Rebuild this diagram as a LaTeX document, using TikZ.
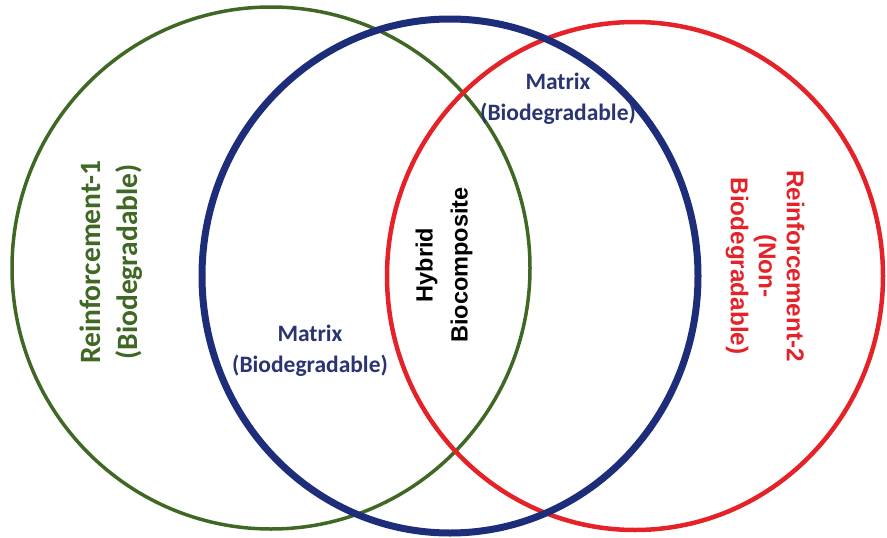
\documentclass[tikz,border=0pt]{standalone}
\usepackage{fontspec}
\newfontfamily\carlito{Carlito}
\newfontfamily\libsans{Liberation Sans}
\definecolor{rgreen}{RGB}{63,104,36}
\definecolor{rblue}{RGB}{30,45,122}
\definecolor{rred}{RGB}{228,34,40}
\definecolor{tblue}{RGB}{42,52,112}
\begin{document}
\begin{tikzpicture}[x=1pt,y=-1pt,
  ring/.style={line width=#1},
  greenlbl/.style={text=rgreen,align=center,rotate=90,inner sep=0pt,
    font=\carlito\bfseries\fontsize{29.5}{37}\selectfont},
  bluelbl/.style={text=tblue,align=center,inner sep=0pt,
    font=\carlito\bfseries\fontsize{23.5}{31}\selectfont},
  hybridlbl/.style={text=black,align=center,rotate=90,inner sep=0pt,
    font=\libsans\bfseries\fontsize{23.5}{35}\selectfont},
  redlbl/.style={text=rred,align=center,rotate=-90,inner sep=0pt,
    font=\libsans\bfseries\fontsize{24.3}{28}\selectfont}]
\useasboundingbox (0,0) rectangle (887,538);
% circles
\draw[rgreen,ring=3.5pt] (271,268) ellipse [x radius=259, y radius=261];
\draw[rred,ring=4.5pt] (635,276) ellipse [x radius=248, y radius=254];
\draw[rblue,ring=7pt] (450,276) ellipse [x radius=248, y radius=257];
% labels
\node[greenlbl] (r1) at (111,262) {Reinforcement-1\\(Biodegradable)};
\node[bluelbl] (m1) at (310,351) {Matrix\\(Biodegradable)};
\node[bluelbl] (m2) at (558,99) {Matrix\\(Biodegradable)};
\node[hybridlbl] (hb) at (444,265) {Hybrid\\Biocomposite};
\node[redlbl] (r2) at (765,266) {Reinforcement-2\\(Non-\\Biodegradable)};
\end{tikzpicture}
\end{document}
